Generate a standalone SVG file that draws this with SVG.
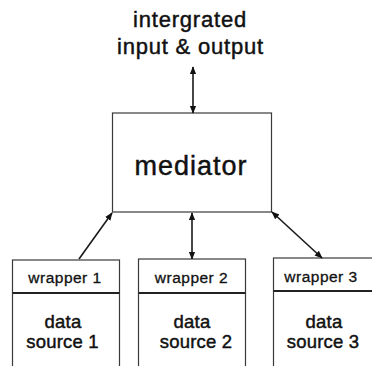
<svg xmlns="http://www.w3.org/2000/svg" width="372" height="366" viewBox="0 0 372 366">
  <style>
    .box { fill: #ffffff; stroke: #3a3a3a; stroke-width: 1.2; }
    .div { stroke: #222; stroke-width: 2; }
    .lbl { font-family: "Liberation Sans", Arial, sans-serif; fill: #111; stroke: #111; stroke-width: 0.45; text-anchor: middle; }
    .title { font-size: 22px; letter-spacing: 0.8px; }
    .med { font-size: 27px; letter-spacing: 1px; }
    .wrap { font-size: 15.5px; letter-spacing: 0.5px; stroke-width: 0.3; }
    .src { font-size: 18.5px; letter-spacing: 0.2px; }
    .conn { stroke: #1a1a1a; stroke-width: 1.6; fill: none; }
  </style>
  <defs>
    <marker id="arrowEnd" viewBox="0 0 10 10" refX="9" refY="5" markerWidth="8" markerHeight="8" orient="auto" markerUnits="userSpaceOnUse">
      <path d="M0,1 L10,5 L0,9 Z" fill="#111"/>
    </marker>
    <marker id="arrowStart" viewBox="0 0 10 10" refX="1" refY="5" markerWidth="8" markerHeight="8" orient="auto" markerUnits="userSpaceOnUse">
      <path d="M10,1 L0,5 L10,9 Z" fill="#111"/>
    </marker>
  </defs>
  <rect width="372" height="366" fill="#ffffff"/>

  <!-- integrated input & output label -->
  <g id="io">
    <text class="lbl title" x="190" y="27">intergrated</text>
    <text class="lbl title" x="190.5" y="54">input &amp; output</text>
  </g>

  <!-- mediator -->
  <g id="mediator">
    <rect class="box" x="112.5" y="113" width="159" height="99"/>
    <text class="lbl med" x="191" y="175">mediator</text>
  </g>

  <!-- source 1 -->
  <g id="source1">
    <rect class="box" x="12.5" y="260" width="107" height="120"/>
    <line class="div" x1="12.5" y1="293" x2="119.5" y2="293"/>
    <text class="lbl wrap" x="65" y="283">wrapper 1</text>
    <text class="lbl src" x="63" y="328">data</text>
    <text class="lbl src" x="62.5" y="348">source 1</text>
  </g>

  <!-- source 2 -->
  <g id="source2">
    <rect class="box" x="138.5" y="259" width="107" height="121"/>
    <line class="div" x1="138.5" y1="293" x2="245.5" y2="293"/>
    <text class="lbl wrap" x="191.5" y="283">wrapper 2</text>
    <text class="lbl src" x="192" y="328">data</text>
    <text class="lbl src" x="196" y="348">source 2</text>
  </g>

  <!-- source 3 -->
  <g id="source3">
    <rect class="box" x="273.5" y="258" width="110" height="122"/>
    <line class="div" x1="273.5" y1="291" x2="372" y2="291"/>
    <text class="lbl wrap" x="321" y="282">wrapper 3</text>
    <text class="lbl src" x="324" y="328">data</text>
    <text class="lbl src" x="323" y="348">source 3</text>
  </g>

  <!-- connectors -->
  <g id="connectors">
    <line class="conn" x1="193" y1="113" x2="193" y2="67" marker-start="url(#arrowStart)" marker-end="url(#arrowEnd)"/>
    <line class="conn" x1="79" y1="259" x2="112" y2="213" marker-end="url(#arrowEnd)"/>
    <line class="conn" x1="192" y1="213" x2="192" y2="259" marker-start="url(#arrowStart)" marker-end="url(#arrowEnd)"/>
    <line class="conn" x1="272" y1="212" x2="322" y2="258" marker-start="url(#arrowStart)" marker-end="url(#arrowEnd)"/>
  </g>
</svg>
